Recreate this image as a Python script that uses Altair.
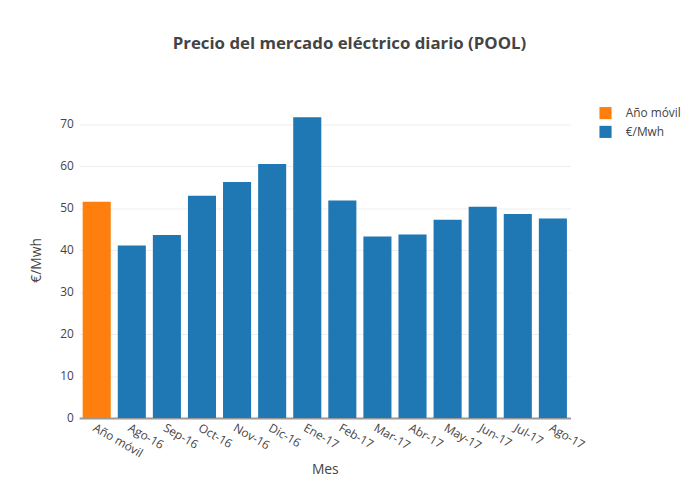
import altair as alt
import pandas as pd

categorias = ["Año móvil", "Ago-16", "Sep-16", "Oct-16", "Nov-16", "Dic-16", "Ene-17",
              "Feb-17", "Mar-17", "Abr-17", "May-17", "Jun-17", "Jul-17", "Ago-17"]
valores = [51.5, 41.1, 43.6, 52.9, 56.2, 60.5, 71.6, 51.8, 43.2, 43.7, 47.2, 50.3, 48.6, 47.5]
series = ["Año móvil"] + ["€/Mwh"] * 13

df = pd.DataFrame({"Mes": categorias, "valor": valores, "serie": series})

FONT = "Open Sans"

chart = alt.Chart(df).mark_bar().encode(
    x=alt.X("Mes:N", sort=categorias, title="Mes",
            scale=alt.Scale(paddingInner=0.2, paddingOuter=0.1),
            axis=alt.Axis(labelAngle=30, labelAlign="left", labelBaseline="top",
                          labelPadding=4, ticks=False, domainColor="#999",
                          domainWidth=2, labelColor="#444", labelFontSize=12,
                          labelFont=FONT, titleFont=FONT, titleFontSize=14,
                          titleColor="#444", titleFontWeight="normal", titlePadding=4)),
    y=alt.Y("valor:Q", title="€/Mwh",
            scale=alt.Scale(domain=[0, 75.3], nice=False),
            axis=alt.Axis(values=[0, 10, 20, 30, 40, 50, 60, 70], domain=False, ticks=False,
                          labelPadding=6, gridColor="#eee", labelColor="#444",
                          labelFontSize=12, labelFont=FONT, titleFont=FONT,
                          titleFontSize=14, titleColor="#444", titleFontWeight="normal",
                          titlePadding=16)),
    color=alt.Color("serie:N",
                    scale=alt.Scale(domain=["Año móvil", "€/Mwh"], range=["#ff7f0e", "#1f77b4"]),
                    legend=alt.Legend(title=None, orient="none", legendX=526, legendY=5,
                                      symbolType="square", symbolSize=150, labelFont=FONT,
                                      labelFontSize=12, labelColor="#444", labelOffset=14,
                                      rowPadding=6, symbolStrokeWidth=0)),
).properties(
    width=497, height=320,
    title=alt.TitleParams("Precio del mercado eléctrico diario (POOL)", font=FONT,
                          fontSize=17, fontWeight="bold", color="#444",
                          anchor="middle", dx=25, offset=49),
    autosize=alt.AutoSizeParams(type="none"),
    padding={"left": 72, "top": 92, "right": 123, "bottom": 72},
).configure_view(stroke=None)

chart.save("out.html", embed_options={"renderer": "svg", "actions": False})
